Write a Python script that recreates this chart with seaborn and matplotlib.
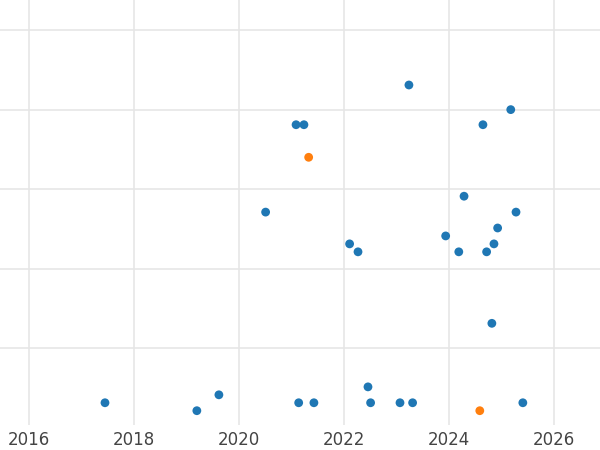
import matplotlib
matplotlib.use("Agg")
import matplotlib.pyplot as plt
import seaborn as sns
import pandas as pd

sns.set_style("whitegrid")

# decimal years and values (unitless, y axis unlabeled)
years = [2017.45, 2019.2, 2019.62, 2020.51, 2021.09, 2021.24, 2021.33, 2021.14, 2021.43,
         2022.11, 2022.27, 2022.46, 2022.51, 2023.07, 2023.31, 2023.24, 2023.94, 2024.19,
         2024.29, 2024.59, 2024.65, 2024.72, 2024.82, 2024.86, 2024.93, 2025.18, 2025.28, 2025.41]
values = [0.31, 0.21, 0.41, 2.71, 3.81, 3.81, 3.40, 0.31, 0.31,
          2.31, 2.21, 0.51, 0.31, 0.31, 0.31, 4.31, 2.41, 2.21,
          2.91, 0.21, 3.81, 2.21, 1.31, 2.31, 2.51, 4.0, 2.71, 0.31]
groups = ["a"] * 28
groups[6] = "b"
groups[19] = "b"

df = pd.DataFrame({"year": years, "value": values, "group": groups})

fig = plt.figure(figsize=(6, 4.5), dpi=100)
ax = fig.add_axes([0, 25 / 450, 1, 425 / 450])
sns.scatterplot(data=df, x="year", y="value", hue="group",
                palette={"a": "#1f77b4", "b": "#ff7f0e"}, s=40, linewidth=0,
                legend=False, ax=ax)
ax.set_xlim(2015.45, 2026.88)
ax.set_ylim(0.03, 5.38)
ax.set_xticks(range(2016, 2027, 2))
ax.set_yticks([1, 2, 3, 4, 5])
ax.set_yticklabels([])
ax.set_xlabel("")
ax.set_ylabel("")
ax.tick_params(axis="x", labelsize=12, labelcolor="#444444", length=0, pad=4)
ax.tick_params(axis="y", length=0)
for s in ax.spines.values():
    s.set_visible(False)
ax.grid(color="#e6e6e6", linewidth=1.2)
fig.savefig("out.png", dpi=100)
